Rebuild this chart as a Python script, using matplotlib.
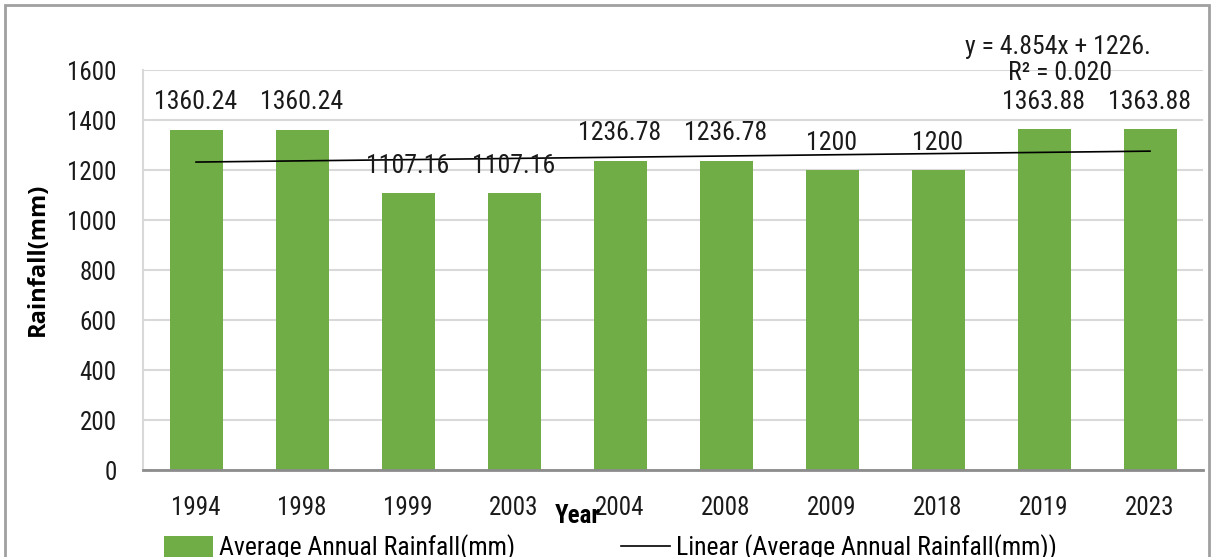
import numpy as np
import matplotlib.pyplot as plt
from matplotlib.patches import Rectangle

# 年份和年平均降雨量
years = ['1994', '1998', '1999', '2003', '2004', '2008', '2009', '2018', '2019', '2023']
rainfall = [1360.24, 1360.24, 1107.16, 1107.16, 1236.78, 1236.78, 1200, 1200, 1363.88, 1363.88]
bar_labels = ['1360.24', '1360.24', '1107.16', '1107.16', '1236.78', '1236.78', '1200', '1200', '1363.88', '1363.88']
eq_text = 'y = 4.854x + 1226.'
r2_text = 'R² = 0.020'

plt.rcParams['font.family'] = ['Roboto Condensed', 'DejaVu Sans']

fig = plt.figure(figsize=(12.13, 5.57), dpi=100)
ax = fig.add_axes([143 / 1213, 1 - 470 / 557, 1060 / 1213, 400 / 557])

x = np.arange(len(years))
bars = ax.bar(x, rainfall, width=0.5, color='#70AD47', zorder=2)

# 线性趋势线 (x 从 1 开始, 和 Excel 一样)
k, b = np.polyfit(x + 1, rainfall, 1)
trend, = ax.plot(x, k * (x + 1) + b, color='black', lw=1.2, zorder=3)

for xi, v, s in zip(x, rainfall, bar_labels):
    ax.text(xi, v + 62, s, ha='center', va='bottom', fontsize=18.5, color='#1a1a1a')

ax.text(8.13, 1645, eq_text, ha='center', va='bottom', fontsize=18.5, color='#1a1a1a', clip_on=False)
ax.text(8.15, 1538, r2_text, ha='center', va='bottom', fontsize=18.5, color='#1a1a1a', clip_on=False)

ax.set_xlim(-0.5, 9.5)
ax.set_ylim(0, 1600)
ax.set_yticks(np.arange(0, 1601, 200))
ax.set_xticks(x)
ax.set_xticklabels(years)
ax.tick_params(axis='both', length=0, labelsize=18, colors='#1a1a1a')
ax.tick_params(axis='y', pad=19)
ax.tick_params(axis='x', pad=19)
ax.grid(axis='y', color='#d9d9d9', lw=1.5, zorder=0)
ax.set_axisbelow(True)

for side in ['top', 'right']:
    ax.spines[side].set_visible(False)
ax.spines['left'].set_color('#d9d9d9')
ax.spines['left'].set_linewidth(1.5)
ax.spines['bottom'].set_color('#8c8c8c')
ax.spines['bottom'].set_linewidth(2)

fig.text(38 / 1213, 1 - 259 / 557, 'Rainfall(mm)', rotation=90, ha='center', va='center',
         fontsize=17, fontweight='bold', family=['Open Sans', 'DejaVu Sans'])
fig.text(578 / 1213, 1 - 516 / 557, 'Year', ha='center', va='center',
         fontsize=18, fontweight='bold')

fig.legend([bars, trend], ['Average Annual Rainfall(mm)', 'Linear (Average Annual Rainfall(mm))'],
           loc='center left', bbox_to_anchor=(164 / 1213, 1 - 548 / 557), ncol=2,
           frameon=False, fontsize=18.5, handlelength=1.9, handleheight=0.9,
           handletextpad=0.25, columnspacing=4.1, borderaxespad=0, borderpad=0)

# 外边框
fig.patches.append(Rectangle((5 / 1213, -0.1), 1204 / 1213, 1.1 - 5 / 557,
                             transform=fig.transFigure, fill=False,
                             edgecolor='#a0a0a0', lw=2))

fig.savefig('out.png', dpi=100)
